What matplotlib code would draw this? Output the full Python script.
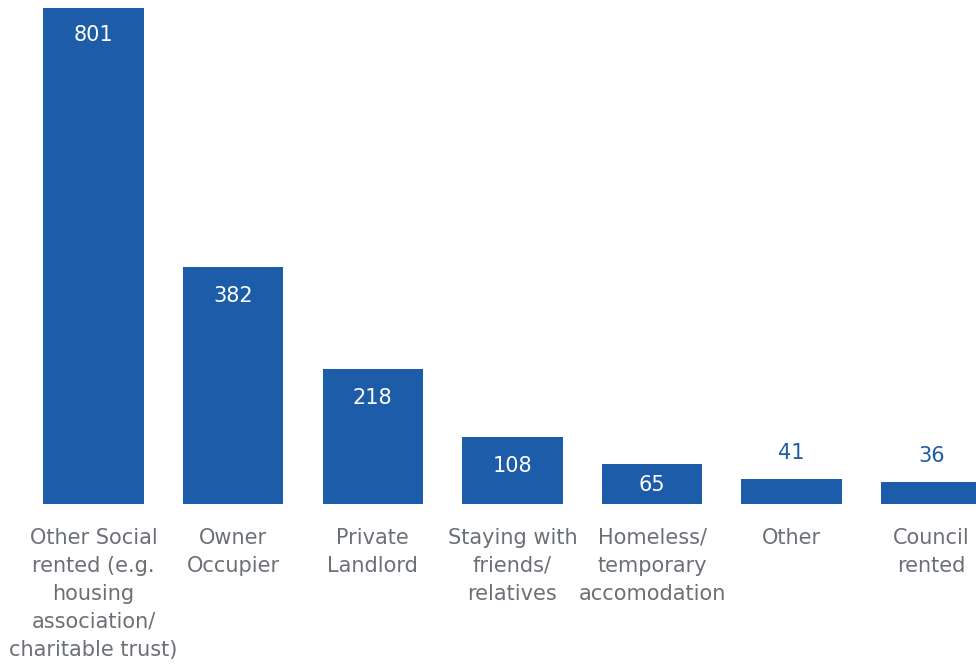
import matplotlib
matplotlib.use("Agg")
import matplotlib.pyplot as plt

categories = [
    "Other Social\nrented (e.g.\nhousing\nassociation/\ncharitable trust)",
    "Owner\nOccupier",
    "Private\nLandlord",
    "Staying with\nfriends/\nrelatives",
    "Homeless/\ntemporary\naccomodation",
    "Other",
    "Council\nrented",
]
counts = [801, 382, 218, 108, 65, 41, 36]

BAR = "#1c5ca8"
GREY = "#6b7076"
FONT = ["DejaVu Sans"]
SIZE = 15

fig = plt.figure(figsize=(9.76, 6.66), dpi=100)
ax = fig.add_axes([0, 162 / 666, 1, 504 / 666])

x = list(range(len(categories)))
bars = ax.bar(x, counts, width=0.72, color=BAR, clip_on=True)

ax.set_xlim(-0.67, 6.32)
ax.set_ylim(0, 801 * 504 / 496)

for rect, v in zip(bars, counts):
    cx = rect.get_x() + rect.get_width() / 2
    if v >= 60:
        off = -27 if v > 500 else (-29 if v > 100 else -21)
        ax.annotate(str(v), (cx, v), xytext=(0, off), textcoords="offset pixels",
                    ha="center", va="center", color="white", fontsize=SIZE, family=FONT)
    else:
        ax.annotate(str(v), (cx, v), xytext=(0, 26), textcoords="offset pixels",
                    ha="center", va="center", color=BAR, fontsize=SIZE, family=FONT)

ax.set_xticks(x)
ax.set_xticklabels(categories, color=GREY, fontsize=SIZE, family=FONT, linespacing=1.5,
                   va="top")
ax.tick_params(axis="x", length=0, pad=17)
ax.set_yticks([])
for s in ax.spines.values():
    s.set_visible(False)

fig.savefig("out.png", dpi=100)
